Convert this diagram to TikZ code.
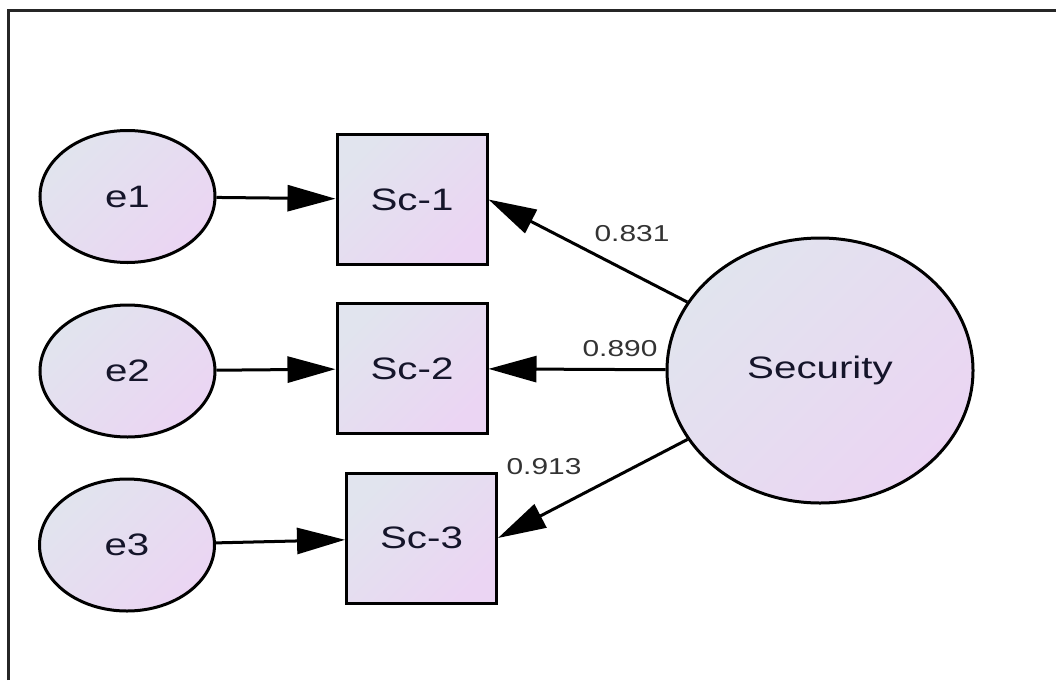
\documentclass[tikz,border=0pt]{standalone}
\usepackage{fontspec}
\setmainfont{Liberation Sans}[FakeStretch=1.3]
\usetikzlibrary{arrows.meta,shapes.geometric}

\definecolor{fillA}{HTML}{E1E4EE}
\definecolor{fillB}{HTML}{EBD5F3}
\definecolor{inkdark}{HTML}{15152A}
\definecolor{inkgray}{HTML}{333333}

\tikzset{
  shaded/.style={shading=axis, top color=fillA, bottom color=fillB, shading angle=45,
    draw=black, line width=3pt, inner sep=0pt, text=inkdark,
    font=\fontsize{31}{36}\selectfont},
  errvar/.style={shaded, ellipse, minimum width=175pt, minimum height=132pt},
  obsvar/.style={shaded, rectangle, minimum width=150pt, minimum height=130pt},
  latent/.style={shaded, ellipse, minimum width=306pt, minimum height=265pt},
  path/.style={line width=3pt, -{Triangle[length=48pt,width=26pt]}},
  weight/.style={text=inkgray, inner sep=0pt, font=\fontsize{23}{27}\selectfont},
  frameline/.style={line width=2.6pt, draw=black!85}
}

\begin{document}
\begin{tikzpicture}[x=1pt,y=-1pt]
  \useasboundingbox (0,0) rectangle (1056,680);

  % frame along the top and left edges
  \draw[frameline] (8.7,680) -- (8.7,10.3) -- (1056,10.3);

  % error terms
  \node[errvar] (e1) at (127.5,196.5) {e1};
  \node[errvar] (e2) at (127.5,371) {e2};
  \node[errvar] (e3) at (127,545) {e3};

  % observed indicators
  \node[obsvar] (sc1) at (412,199.5) {Sc-1};
  \node[obsvar] (sc2) at (412,368.5) {Sc-2};
  \node[obsvar] (sc3) at (421.5,538) {Sc-3};

  % latent factor
  \node[latent] (sec) at (820,370.5) {Security};

  % error paths
  \draw[path] (e1) -- (sc1);
  \draw[path] (e2) -- (sc2);
  \draw[path] (e3) -- (sc3);

  % loadings
  \draw[path] (sec) -- (sc1.east);
  \draw[path] (sec) -- (sc2);
  \draw[path] (sec) -- (sc3.east);

  \node[weight] (w1) at (632,234) {0.831};
  \node[weight] (w2) at (620,349) {0.890};
  \node[weight] (w3) at (544,467) {0.913};
\end{tikzpicture}
\end{document}
